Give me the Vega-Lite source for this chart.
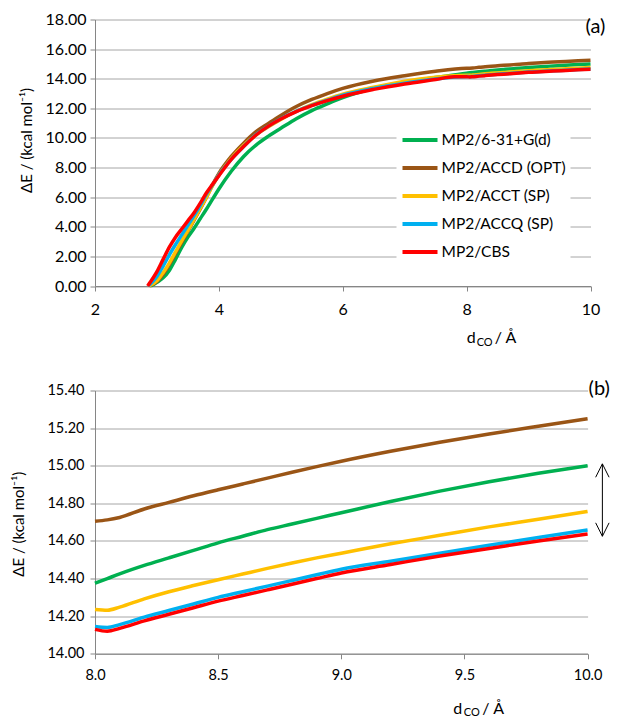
{
  "$schema": "https://vega.github.io/schema/vega-lite/v6.json",
  "background": "white",
  "padding": {"left": 11, "top": 11.5, "right": 0, "bottom": 0},
  "spacing": 30,
  "config": {
    "font": "Lato",
    "view": {"stroke": null},
    "axis": {
      "gridColor": "#A6A6A6",
      "gridWidth": 1,
      "domainColor": "#868686",
      "tickColor": "#868686",
      "tickSize": 5,
      "tickCount": 30,
      "labelColor": "#000000",
      "labelFont": "Lato",
      "titleColor": "#000000",
      "titleFont": "Lato",
      "titleFontWeight": "normal",
      "labelFlush": false,
      "labelOverlap": false,
      "labelBound": false
    }
  },
  "datasets": {
    "curves": [
      {"series": "MP2/6-31+G(d)", "x": 2.9, "y": 0},
      {"series": "MP2/6-31+G(d)", "x": 3.0, "y": 0.25},
      {"series": "MP2/6-31+G(d)", "x": 3.1, "y": 0.55},
      {"series": "MP2/6-31+G(d)", "x": 3.2, "y": 1.05},
      {"series": "MP2/6-31+G(d)", "x": 3.3, "y": 1.8},
      {"series": "MP2/6-31+G(d)", "x": 3.4, "y": 2.6},
      {"series": "MP2/6-31+G(d)", "x": 3.5, "y": 3.3},
      {"series": "MP2/6-31+G(d)", "x": 3.6, "y": 3.9},
      {"series": "MP2/6-31+G(d)", "x": 3.7, "y": 4.55},
      {"series": "MP2/6-31+G(d)", "x": 3.8, "y": 5.2},
      {"series": "MP2/6-31+G(d)", "x": 3.9, "y": 5.88},
      {"series": "MP2/6-31+G(d)", "x": 4.0, "y": 6.55},
      {"series": "MP2/6-31+G(d)", "x": 4.2, "y": 7.75},
      {"series": "MP2/6-31+G(d)", "x": 4.4, "y": 8.75},
      {"series": "MP2/6-31+G(d)", "x": 4.6, "y": 9.52},
      {"series": "MP2/6-31+G(d)", "x": 4.8, "y": 10.12},
      {"series": "MP2/6-31+G(d)", "x": 5.0, "y": 10.65},
      {"series": "MP2/6-31+G(d)", "x": 5.25, "y": 11.3},
      {"series": "MP2/6-31+G(d)", "x": 5.5, "y": 11.85},
      {"series": "MP2/6-31+G(d)", "x": 5.75, "y": 12.3},
      {"series": "MP2/6-31+G(d)", "x": 6.0, "y": 12.72},
      {"series": "MP2/6-31+G(d)", "x": 6.5, "y": 13.35},
      {"series": "MP2/6-31+G(d)", "x": 7.0, "y": 13.78},
      {"series": "MP2/6-31+G(d)", "x": 7.5, "y": 14.08},
      {"series": "MP2/6-31+G(d)", "x": 8.0, "y": 14.375},
      {"series": "MP2/6-31+G(d)", "x": 8.05, "y": 14.4},
      {"series": "MP2/6-31+G(d)", "x": 8.1, "y": 14.425},
      {"series": "MP2/6-31+G(d)", "x": 8.2, "y": 14.47},
      {"series": "MP2/6-31+G(d)", "x": 8.3, "y": 14.51},
      {"series": "MP2/6-31+G(d)", "x": 8.4, "y": 14.55},
      {"series": "MP2/6-31+G(d)", "x": 8.5, "y": 14.59},
      {"series": "MP2/6-31+G(d)", "x": 8.6, "y": 14.625},
      {"series": "MP2/6-31+G(d)", "x": 8.7, "y": 14.66},
      {"series": "MP2/6-31+G(d)", "x": 8.8, "y": 14.69},
      {"series": "MP2/6-31+G(d)", "x": 8.9, "y": 14.72},
      {"series": "MP2/6-31+G(d)", "x": 9.0, "y": 14.75},
      {"series": "MP2/6-31+G(d)", "x": 9.2, "y": 14.81},
      {"series": "MP2/6-31+G(d)", "x": 9.4, "y": 14.865},
      {"series": "MP2/6-31+G(d)", "x": 9.6, "y": 14.915},
      {"series": "MP2/6-31+G(d)", "x": 9.8, "y": 14.96},
      {"series": "MP2/6-31+G(d)", "x": 10.0, "y": 15.0},

      {"series": "MP2/ACCD (OPT)", "x": 2.88, "y": 0},
      {"series": "MP2/ACCD (OPT)", "x": 3.0, "y": 0.3},
      {"series": "MP2/ACCD (OPT)", "x": 3.1, "y": 0.8},
      {"series": "MP2/ACCD (OPT)", "x": 3.2, "y": 1.45},
      {"series": "MP2/ACCD (OPT)", "x": 3.3, "y": 2.2},
      {"series": "MP2/ACCD (OPT)", "x": 3.4, "y": 2.95},
      {"series": "MP2/ACCD (OPT)", "x": 3.5, "y": 3.7},
      {"series": "MP2/ACCD (OPT)", "x": 3.6, "y": 4.45},
      {"series": "MP2/ACCD (OPT)", "x": 3.7, "y": 5.2},
      {"series": "MP2/ACCD (OPT)", "x": 3.8, "y": 6.0},
      {"series": "MP2/ACCD (OPT)", "x": 3.9, "y": 6.85},
      {"series": "MP2/ACCD (OPT)", "x": 4.0, "y": 7.6},
      {"series": "MP2/ACCD (OPT)", "x": 4.2, "y": 8.75},
      {"series": "MP2/ACCD (OPT)", "x": 4.4, "y": 9.65},
      {"series": "MP2/ACCD (OPT)", "x": 4.6, "y": 10.42},
      {"series": "MP2/ACCD (OPT)", "x": 4.8, "y": 10.98},
      {"series": "MP2/ACCD (OPT)", "x": 5.0, "y": 11.52},
      {"series": "MP2/ACCD (OPT)", "x": 5.25, "y": 12.12},
      {"series": "MP2/ACCD (OPT)", "x": 5.5, "y": 12.6},
      {"series": "MP2/ACCD (OPT)", "x": 5.75, "y": 13.0},
      {"series": "MP2/ACCD (OPT)", "x": 6.0, "y": 13.35},
      {"series": "MP2/ACCD (OPT)", "x": 6.5, "y": 13.85},
      {"series": "MP2/ACCD (OPT)", "x": 7.0, "y": 14.2},
      {"series": "MP2/ACCD (OPT)", "x": 7.5, "y": 14.5},
      {"series": "MP2/ACCD (OPT)", "x": 8.0, "y": 14.705},
      {"series": "MP2/ACCD (OPT)", "x": 8.05, "y": 14.712},
      {"series": "MP2/ACCD (OPT)", "x": 8.1, "y": 14.725},
      {"series": "MP2/ACCD (OPT)", "x": 8.2, "y": 14.77},
      {"series": "MP2/ACCD (OPT)", "x": 8.3, "y": 14.805},
      {"series": "MP2/ACCD (OPT)", "x": 8.4, "y": 14.84},
      {"series": "MP2/ACCD (OPT)", "x": 8.5, "y": 14.872},
      {"series": "MP2/ACCD (OPT)", "x": 8.6, "y": 14.903},
      {"series": "MP2/ACCD (OPT)", "x": 8.7, "y": 14.934},
      {"series": "MP2/ACCD (OPT)", "x": 8.8, "y": 14.965},
      {"series": "MP2/ACCD (OPT)", "x": 8.9, "y": 14.995},
      {"series": "MP2/ACCD (OPT)", "x": 9.0, "y": 15.024},
      {"series": "MP2/ACCD (OPT)", "x": 9.2, "y": 15.077},
      {"series": "MP2/ACCD (OPT)", "x": 9.4, "y": 15.125},
      {"series": "MP2/ACCD (OPT)", "x": 9.6, "y": 15.169},
      {"series": "MP2/ACCD (OPT)", "x": 9.8, "y": 15.21},
      {"series": "MP2/ACCD (OPT)", "x": 10.0, "y": 15.25},

      {"series": "MP2/ACCT (SP)", "x": 2.87, "y": 0},
      {"series": "MP2/ACCT (SP)", "x": 3.0, "y": 0.35},
      {"series": "MP2/ACCT (SP)", "x": 3.1, "y": 0.9},
      {"series": "MP2/ACCT (SP)", "x": 3.2, "y": 1.55},
      {"series": "MP2/ACCT (SP)", "x": 3.3, "y": 2.3},
      {"series": "MP2/ACCT (SP)", "x": 3.4, "y": 3.05},
      {"series": "MP2/ACCT (SP)", "x": 3.5, "y": 3.75},
      {"series": "MP2/ACCT (SP)", "x": 3.6, "y": 4.5},
      {"series": "MP2/ACCT (SP)", "x": 3.7, "y": 5.25},
      {"series": "MP2/ACCT (SP)", "x": 3.8, "y": 6.0},
      {"series": "MP2/ACCT (SP)", "x": 3.9, "y": 6.8},
      {"series": "MP2/ACCT (SP)", "x": 4.0, "y": 7.5},
      {"series": "MP2/ACCT (SP)", "x": 4.2, "y": 8.62},
      {"series": "MP2/ACCT (SP)", "x": 4.4, "y": 9.5},
      {"series": "MP2/ACCT (SP)", "x": 4.6, "y": 10.2},
      {"series": "MP2/ACCT (SP)", "x": 4.8, "y": 10.75},
      {"series": "MP2/ACCT (SP)", "x": 5.0, "y": 11.25},
      {"series": "MP2/ACCT (SP)", "x": 5.25, "y": 11.8},
      {"series": "MP2/ACCT (SP)", "x": 5.5, "y": 12.25},
      {"series": "MP2/ACCT (SP)", "x": 5.75, "y": 12.62},
      {"series": "MP2/ACCT (SP)", "x": 6.0, "y": 12.95},
      {"series": "MP2/ACCT (SP)", "x": 6.5, "y": 13.42},
      {"series": "MP2/ACCT (SP)", "x": 7.0, "y": 13.83},
      {"series": "MP2/ACCT (SP)", "x": 7.5, "y": 14.1},
      {"series": "MP2/ACCT (SP)", "x": 8.0, "y": 14.236},
      {"series": "MP2/ACCT (SP)", "x": 8.05, "y": 14.232},
      {"series": "MP2/ACCT (SP)", "x": 8.1, "y": 14.248},
      {"series": "MP2/ACCT (SP)", "x": 8.2, "y": 14.292},
      {"series": "MP2/ACCT (SP)", "x": 8.3, "y": 14.33},
      {"series": "MP2/ACCT (SP)", "x": 8.4, "y": 14.363},
      {"series": "MP2/ACCT (SP)", "x": 8.5, "y": 14.394},
      {"series": "MP2/ACCT (SP)", "x": 8.6, "y": 14.424},
      {"series": "MP2/ACCT (SP)", "x": 8.7, "y": 14.454},
      {"series": "MP2/ACCT (SP)", "x": 8.8, "y": 14.483},
      {"series": "MP2/ACCT (SP)", "x": 8.9, "y": 14.51},
      {"series": "MP2/ACCT (SP)", "x": 9.0, "y": 14.535},
      {"series": "MP2/ACCT (SP)", "x": 9.2, "y": 14.585},
      {"series": "MP2/ACCT (SP)", "x": 9.4, "y": 14.63},
      {"series": "MP2/ACCT (SP)", "x": 9.6, "y": 14.675},
      {"series": "MP2/ACCT (SP)", "x": 9.8, "y": 14.715},
      {"series": "MP2/ACCT (SP)", "x": 10.0, "y": 14.757},

      {"series": "MP2/ACCQ (SP)", "x": 2.86, "y": 0},
      {"series": "MP2/ACCQ (SP)", "x": 3.0, "y": 0.65},
      {"series": "MP2/ACCQ (SP)", "x": 3.1, "y": 1.35},
      {"series": "MP2/ACCQ (SP)", "x": 3.2, "y": 2.1},
      {"series": "MP2/ACCQ (SP)", "x": 3.3, "y": 2.8},
      {"series": "MP2/ACCQ (SP)", "x": 3.4, "y": 3.45},
      {"series": "MP2/ACCQ (SP)", "x": 3.5, "y": 4.1},
      {"series": "MP2/ACCQ (SP)", "x": 3.6, "y": 4.75},
      {"series": "MP2/ACCQ (SP)", "x": 3.7, "y": 5.45},
      {"series": "MP2/ACCQ (SP)", "x": 3.8, "y": 6.2},
      {"series": "MP2/ACCQ (SP)", "x": 3.9, "y": 6.85},
      {"series": "MP2/ACCQ (SP)", "x": 4.0, "y": 7.5},
      {"series": "MP2/ACCQ (SP)", "x": 4.2, "y": 8.55},
      {"series": "MP2/ACCQ (SP)", "x": 4.4, "y": 9.42},
      {"series": "MP2/ACCQ (SP)", "x": 4.6, "y": 10.22},
      {"series": "MP2/ACCQ (SP)", "x": 4.8, "y": 10.8},
      {"series": "MP2/ACCQ (SP)", "x": 5.0, "y": 11.3},
      {"series": "MP2/ACCQ (SP)", "x": 5.25, "y": 11.8},
      {"series": "MP2/ACCQ (SP)", "x": 5.5, "y": 12.2},
      {"series": "MP2/ACCQ (SP)", "x": 5.75, "y": 12.55},
      {"series": "MP2/ACCQ (SP)", "x": 6.0, "y": 12.88},
      {"series": "MP2/ACCQ (SP)", "x": 6.5, "y": 13.35},
      {"series": "MP2/ACCQ (SP)", "x": 7.0, "y": 13.7},
      {"series": "MP2/ACCQ (SP)", "x": 7.5, "y": 13.98},
      {"series": "MP2/ACCQ (SP)", "x": 8.0, "y": 14.145},
      {"series": "MP2/ACCQ (SP)", "x": 8.05, "y": 14.14},
      {"series": "MP2/ACCQ (SP)", "x": 8.1, "y": 14.155},
      {"series": "MP2/ACCQ (SP)", "x": 8.2, "y": 14.195},
      {"series": "MP2/ACCQ (SP)", "x": 8.3, "y": 14.23},
      {"series": "MP2/ACCQ (SP)", "x": 8.4, "y": 14.265},
      {"series": "MP2/ACCQ (SP)", "x": 8.5, "y": 14.3},
      {"series": "MP2/ACCQ (SP)", "x": 8.6, "y": 14.33},
      {"series": "MP2/ACCQ (SP)", "x": 8.7, "y": 14.36},
      {"series": "MP2/ACCQ (SP)", "x": 8.8, "y": 14.39},
      {"series": "MP2/ACCQ (SP)", "x": 8.9, "y": 14.42},
      {"series": "MP2/ACCQ (SP)", "x": 9.0, "y": 14.45},
      {"series": "MP2/ACCQ (SP)", "x": 9.2, "y": 14.492},
      {"series": "MP2/ACCQ (SP)", "x": 9.4, "y": 14.535},
      {"series": "MP2/ACCQ (SP)", "x": 9.6, "y": 14.577},
      {"series": "MP2/ACCQ (SP)", "x": 9.8, "y": 14.618},
      {"series": "MP2/ACCQ (SP)", "x": 10.0, "y": 14.658},

      {"series": "MP2/CBS", "x": 2.85, "y": 0},
      {"series": "MP2/CBS", "x": 2.9, "y": 0.3},
      {"series": "MP2/CBS", "x": 3.0, "y": 0.97},
      {"series": "MP2/CBS", "x": 3.1, "y": 1.8},
      {"series": "MP2/CBS", "x": 3.2, "y": 2.62},
      {"series": "MP2/CBS", "x": 3.3, "y": 3.3},
      {"series": "MP2/CBS", "x": 3.4, "y": 3.85},
      {"series": "MP2/CBS", "x": 3.5, "y": 4.4},
      {"series": "MP2/CBS", "x": 3.6, "y": 4.95},
      {"series": "MP2/CBS", "x": 3.7, "y": 5.6},
      {"series": "MP2/CBS", "x": 3.8, "y": 6.3},
      {"series": "MP2/CBS", "x": 3.9, "y": 6.88},
      {"series": "MP2/CBS", "x": 4.0, "y": 7.45},
      {"series": "MP2/CBS", "x": 4.2, "y": 8.55},
      {"series": "MP2/CBS", "x": 4.4, "y": 9.42},
      {"series": "MP2/CBS", "x": 4.6, "y": 10.2},
      {"series": "MP2/CBS", "x": 4.8, "y": 10.8},
      {"series": "MP2/CBS", "x": 5.0, "y": 11.28},
      {"series": "MP2/CBS", "x": 5.25, "y": 11.78},
      {"series": "MP2/CBS", "x": 5.5, "y": 12.18},
      {"series": "MP2/CBS", "x": 5.75, "y": 12.52},
      {"series": "MP2/CBS", "x": 6.0, "y": 12.82},
      {"series": "MP2/CBS", "x": 6.5, "y": 13.28},
      {"series": "MP2/CBS", "x": 7.0, "y": 13.65},
      {"series": "MP2/CBS", "x": 7.5, "y": 13.95},
      {"series": "MP2/CBS", "x": 7.8, "y": 14.13},
      {"series": "MP2/CBS", "x": 8.0, "y": 14.13},
      {"series": "MP2/CBS", "x": 8.05, "y": 14.12},
      {"series": "MP2/CBS", "x": 8.1, "y": 14.135},
      {"series": "MP2/CBS", "x": 8.2, "y": 14.175},
      {"series": "MP2/CBS", "x": 8.3, "y": 14.21},
      {"series": "MP2/CBS", "x": 8.4, "y": 14.245},
      {"series": "MP2/CBS", "x": 8.5, "y": 14.28},
      {"series": "MP2/CBS", "x": 8.6, "y": 14.31},
      {"series": "MP2/CBS", "x": 8.7, "y": 14.34},
      {"series": "MP2/CBS", "x": 8.8, "y": 14.37},
      {"series": "MP2/CBS", "x": 8.9, "y": 14.4},
      {"series": "MP2/CBS", "x": 9.0, "y": 14.43},
      {"series": "MP2/CBS", "x": 9.2, "y": 14.475},
      {"series": "MP2/CBS", "x": 9.4, "y": 14.52},
      {"series": "MP2/CBS", "x": 9.6, "y": 14.56},
      {"series": "MP2/CBS", "x": 9.8, "y": 14.6},
      {"series": "MP2/CBS", "x": 10.0, "y": 14.637}
    ]
  },
  "resolve": {"legend": {"color": "independent"}},
  "vconcat": [
    {
      "width": 495.5,
      "height": 266.5,
      "layer": [
        {
          "data": {"name": "curves"},
          "mark": {"type": "line", "interpolate": "monotone", "strokeWidth": 3.5},
          "encoding": {
            "x": {"field": "x", "type": "quantitative",
              "scale": {"domain": [2, 10], "nice": false},
              "axis": {"values": [2, 4, 6, 8, 10], "format": "d", "grid": false, "labelFontSize": 16, "labelPadding": 10, "title": null}},
            "y": {"field": "y", "type": "quantitative",
              "scale": {"domain": [0, 18], "nice": false},
              "axis": {"values": [0, 2, 4, 6, 8, 10, 12, 14, 16, 18], "format": ".2f", "grid": true, "labelFontSize": 16, "labelPadding": 4,
                "title": "ΔE / (kcal mol⁻¹)", "titleFontSize": 15, "titleAngle": -90, "titleBaseline": "middle", "titleX": -69, "titleY": 120.5}},
            "color": {"field": "series", "type": "nominal",
              "scale": {"domain": ["MP2/6-31+G(d)", "MP2/ACCD (OPT)", "MP2/ACCT (SP)", "MP2/ACCQ (SP)", "MP2/CBS"],
                        "range": ["#00B050", "#9A5516", "#FFC000", "#00B0F0", "#FF0000"]},
              "legend": {"orient": "none", "legendX": 301.5, "legendY": 97, "title": null,
                "symbolType": "stroke", "symbolSize": 1225, "symbolStrokeWidth": 4,
                "labelFontSize": 15.5, "labelFont": "Lato", "labelColor": "#000000",
                "fillColor": "white", "padding": 4, "rowPadding": -7.5, "labelOffset": 2}}
          }
        },
        {
          "data": {"values": [{}]},
          "mark": {"type": "text", "text": "(a)", "fontSize": 20, "align": "left", "baseline": "middle", "dx": -5, "dy": 7, "color": "#000000"},
          "encoding": {"x": {"datum": 10}, "y": {"datum": 18}}
        },
        {
          "data": {"values": [{}]},
          "mark": {"type": "text", "text": "d", "fontSize": 16, "align": "left", "baseline": "alphabetic", "color": "#000000"},
          "encoding": {"x": {"datum": 8.0}, "y": {"datum": -3.85}}
        },
        {
          "data": {"values": [{}]},
          "mark": {"type": "text", "text": "CO", "fontSize": 11, "align": "left", "baseline": "alphabetic", "dx": 10, "dy": 3, "color": "#000000"},
          "encoding": {"x": {"datum": 8.0}, "y": {"datum": -3.85}}
        },
        {
          "data": {"values": [{}]},
          "mark": {"type": "text", "text": "/ Å", "fontSize": 16, "align": "left", "baseline": "alphabetic", "dx": 28, "color": "#000000"},
          "encoding": {"x": {"datum": 8.0}, "y": {"datum": -3.85}}
        }
      ]
    },
    {
      "width": 492.6,
      "height": 263.3,
      "layer": [
        {
          "data": {"name": "curves"},
          "transform": [{"filter": "datum.x >= 8"}],
          "mark": {"type": "line", "interpolate": "monotone", "strokeWidth": 3.5},
          "encoding": {
            "x": {"field": "x", "type": "quantitative",
              "scale": {"domain": [8, 10], "nice": false},
              "axis": {"values": [8, 8.5, 9, 9.5, 10], "format": ".1f", "grid": false, "labelFontSize": 14.5, "labelPadding": 10, "title": null}},
            "y": {"field": "y", "type": "quantitative",
              "scale": {"domain": [14, 15.4], "nice": false},
              "axis": {"values": [14, 14.2, 14.4, 14.6, 14.8, 15, 15.2, 15.4], "format": ".2f", "grid": true, "labelFontSize": 14.5, "labelPadding": 6,
                "title": "ΔE / (kcal mol⁻¹)", "titleFontSize": 15, "titleAngle": -90, "titleBaseline": "middle", "titleX": -76.2, "titleY": 133.3}},
            "color": {"field": "series", "type": "nominal", "legend": null}
          }
        },
        {
          "data": {"values": [{}]},
          "mark": {"type": "rule", "color": "#000000", "strokeWidth": 1},
          "encoding": {"x": {"datum": 10.06}, "y": {"datum": 15.01}, "y2": {"datum": 14.625}}
        },
        {
          "data": {"values": [{}]},
          "mark": {"type": "point", "shape": "M-1,2L0,0L1,2", "size": 180, "filled": false, "stroke": "#000000", "strokeWidth": 1, "opacity": 1},
          "encoding": {"x": {"datum": 10.06}, "y": {"datum": 15.01}}
        },
        {
          "data": {"values": [{}]},
          "mark": {"type": "point", "shape": "M-1,-2L0,0L1,-2", "size": 180, "filled": false, "stroke": "#000000", "strokeWidth": 1, "opacity": 1},
          "encoding": {"x": {"datum": 10.06}, "y": {"datum": 14.625}}
        },
        {
          "data": {"values": [{}]},
          "mark": {"type": "text", "text": "(b)", "fontSize": 20, "align": "left", "baseline": "middle", "dx": 1, "dy": -2, "color": "#000000"},
          "encoding": {"x": {"datum": 10}, "y": {"datum": 15.4}}
        },
        {
          "data": {"values": [{}]},
          "mark": {"type": "text", "text": "d", "fontSize": 16, "align": "left", "baseline": "alphabetic", "color": "#000000"},
          "encoding": {"x": {"datum": 9.455}, "y": {"datum": 13.68}}
        },
        {
          "data": {"values": [{}]},
          "mark": {"type": "text", "text": "CO", "fontSize": 11, "align": "left", "baseline": "alphabetic", "dx": 10.5, "dy": 2, "color": "#000000"},
          "encoding": {"x": {"datum": 9.455}, "y": {"datum": 13.68}}
        },
        {
          "data": {"values": [{}]},
          "mark": {"type": "text", "text": "/ Å", "fontSize": 16, "align": "left", "baseline": "alphabetic", "dx": 29, "color": "#000000"},
          "encoding": {"x": {"datum": 9.455}, "y": {"datum": 13.68}}
        }
      ]
    }
  ]
}
